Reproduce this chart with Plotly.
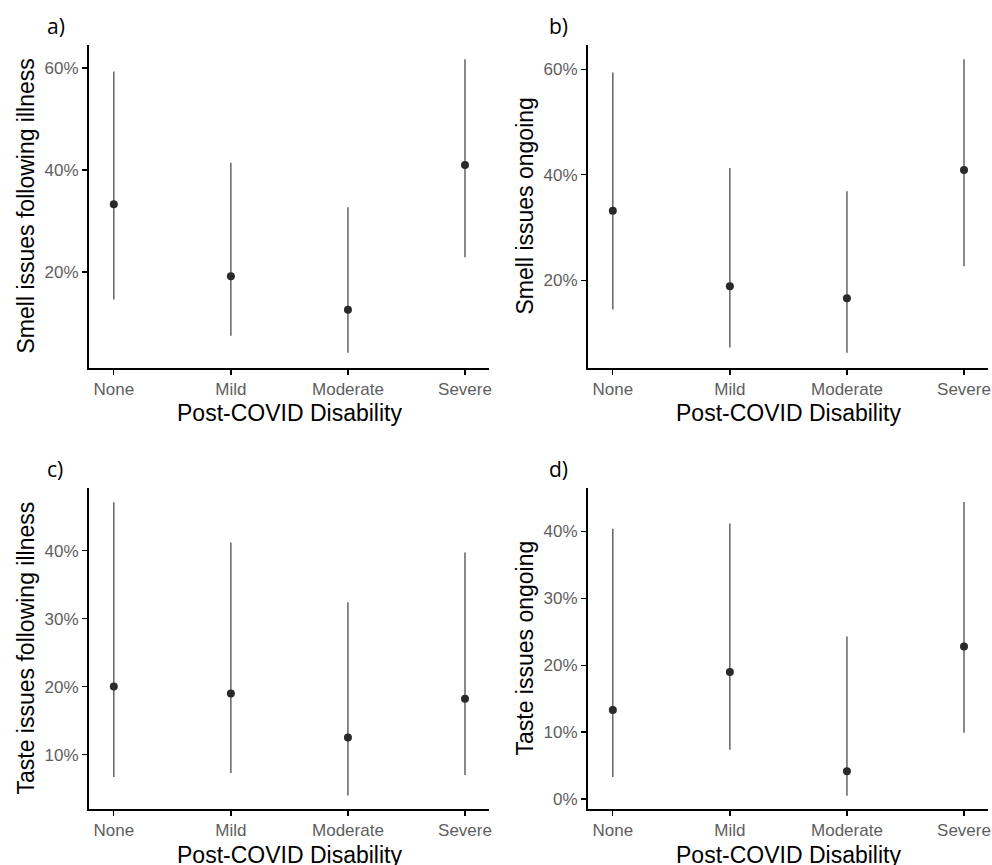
import plotly.graph_objects as go

categories = ["None", "Mild", "Moderate", "Severe"]

# panel a) Smell issues following illness (%)
smell_follow_est = [33.3, 19.2, 12.6, 41.0]
smell_follow_lo = [14.6, 7.5, 4.2, 22.9]
smell_follow_hi = [59.3, 41.4, 32.7, 61.7]

# panel b) Smell issues ongoing (%)
smell_ongoing_est = [33.2, 18.9, 16.6, 40.9]
smell_ongoing_lo = [14.5, 7.3, 6.3, 22.7]
smell_ongoing_hi = [59.4, 41.3, 36.9, 61.9]

# panel c) Taste issues following illness (%)
taste_follow_est = [20.0, 19.0, 12.5, 18.2]
taste_follow_lo = [6.7, 7.3, 4.0, 7.0]
taste_follow_hi = [47.1, 41.2, 32.4, 39.7]

# panel d) Taste issues ongoing (%)
taste_ongoing_est = [13.3, 19.0, 4.15, 22.8]
taste_ongoing_lo = [3.3, 7.35, 0.5, 9.9]
taste_ongoing_hi = [40.4, 41.2, 24.3, 44.4]

panel_labels = ["a)", "b)", "c)", "d)"]
y_titles = ["Smell issues following illness", "Smell issues ongoing",
            "Taste issues following illness", "Taste issues ongoing"]
x_title = "Post-COVID Disability"
y_ticks = [[20, 40, 60], [20, 40, 60], [10, 20, 30, 40], [0, 10, 20, 30, 40]]
y_ranges = [[1.2, 64.5], [3.4, 64.6], [2.0, 49.2], [-1.5, 46.5]]

W, H = 992, 865
panels = [
    (smell_follow_est, smell_follow_lo, smell_follow_hi),
    (smell_ongoing_est, smell_ongoing_lo, smell_ongoing_hi),
    (taste_follow_est, taste_follow_lo, taste_follow_hi),
    (taste_ongoing_est, taste_ongoing_lo, taste_ongoing_hi),
]
# pixel boxes in the window (left, right, top, bottom)
boxes = [(89, 489, 45, 368), (588, 988, 45, 368),
         (89, 489, 488, 809), (588, 988, 488, 809)]


def px(v):
    return v / W


def py(v):
    return 1 - v / H


fig = go.Figure()
layout = dict(width=W, height=H, margin=dict(l=0, r=0, t=0, b=0),
              paper_bgcolor="white", plot_bgcolor="white", showlegend=False)
annotations = []
tickfont = dict(family="Liberation Sans, Arial, sans-serif", size=17, color="#5E5E5E")
titlefont = dict(family="Liberation Sans, Arial, sans-serif", size=23, color="black")

for i, ((est, lo, hi), (l, r, t, b)) in enumerate(zip(panels, boxes)):
    n = i + 1
    xa = "x" if n == 1 else f"x{n}"
    ya = "y" if n == 1 else f"y{n}"
    fig.add_trace(go.Scatter(
        x=categories, y=est, xaxis=xa, yaxis=ya, mode="markers",
        marker=dict(size=8, color="#2A2A2A"),
        error_y=dict(type="data", symmetric=False,
                     array=[h - e for h, e in zip(hi, est)],
                     arrayminus=[e - lo_ for e, lo_ in zip(est, lo)],
                     width=0, thickness=1.3, color="#4A4A4A"),
        hoverinfo="skip"))
    xkey = "xaxis" if n == 1 else f"xaxis{n}"
    ykey = "yaxis" if n == 1 else f"yaxis{n}"
    layout[xkey] = dict(domain=[px(l), px(r)], anchor=ya, type="category",
                        categoryorder="array", categoryarray=categories,
                        range=[-0.212, 3.205], showline=True, linecolor="black",
                        linewidth=2, ticks="outside", ticklen=5, tickwidth=1.3,
                        tickcolor="black", showgrid=False, zeroline=False,
                        tickfont=tickfont, automargin=False)
    layout[ykey] = dict(domain=[py(b), py(t)], anchor=xa,
                        range=y_ranges[i], tickmode="array", tickvals=y_ticks[i],
                        ticktext=[f"{v}%" for v in y_ticks[i]],
                        showline=True, linecolor="black", linewidth=2,
                        ticks="outside", ticklen=5, tickwidth=1.3, tickcolor="black",
                        showgrid=False, zeroline=False, tickfont=tickfont,
                        automargin=False)
    cx = (l + r) / 2
    annotations.append(dict(text=x_title, xref="paper", yref="paper",
                            x=px(cx), y=py(413 if i < 2 else 855),
                            xanchor="center", yanchor="middle", showarrow=False,
                            font=titlefont))
    annotations.append(dict(text=y_titles[i], xref="paper", yref="paper",
                            x=px(l - 64), y=py((t + b) / 2),
                            xanchor="center", yanchor="middle", textangle=-90,
                            showarrow=False, font=titlefont))
    annotations.append(dict(text=panel_labels[i], xref="paper", yref="paper",
                            x=px(l - 44 if i % 2 == 0 else l - 41),
                            y=py(t - 19),
                            xanchor="left", yanchor="middle", showarrow=False,
                            font=dict(family="Open Sans, sans-serif", size=21,
                                      color="black")))

layout["annotations"] = annotations
fig.update_layout(**layout)
fig.write_html("out.html",
               config={"displayModeBar": False, "staticPlot": True},
               post_script="document.body.style.margin='0px';"
                           "document.body.style.overflow='hidden';")
